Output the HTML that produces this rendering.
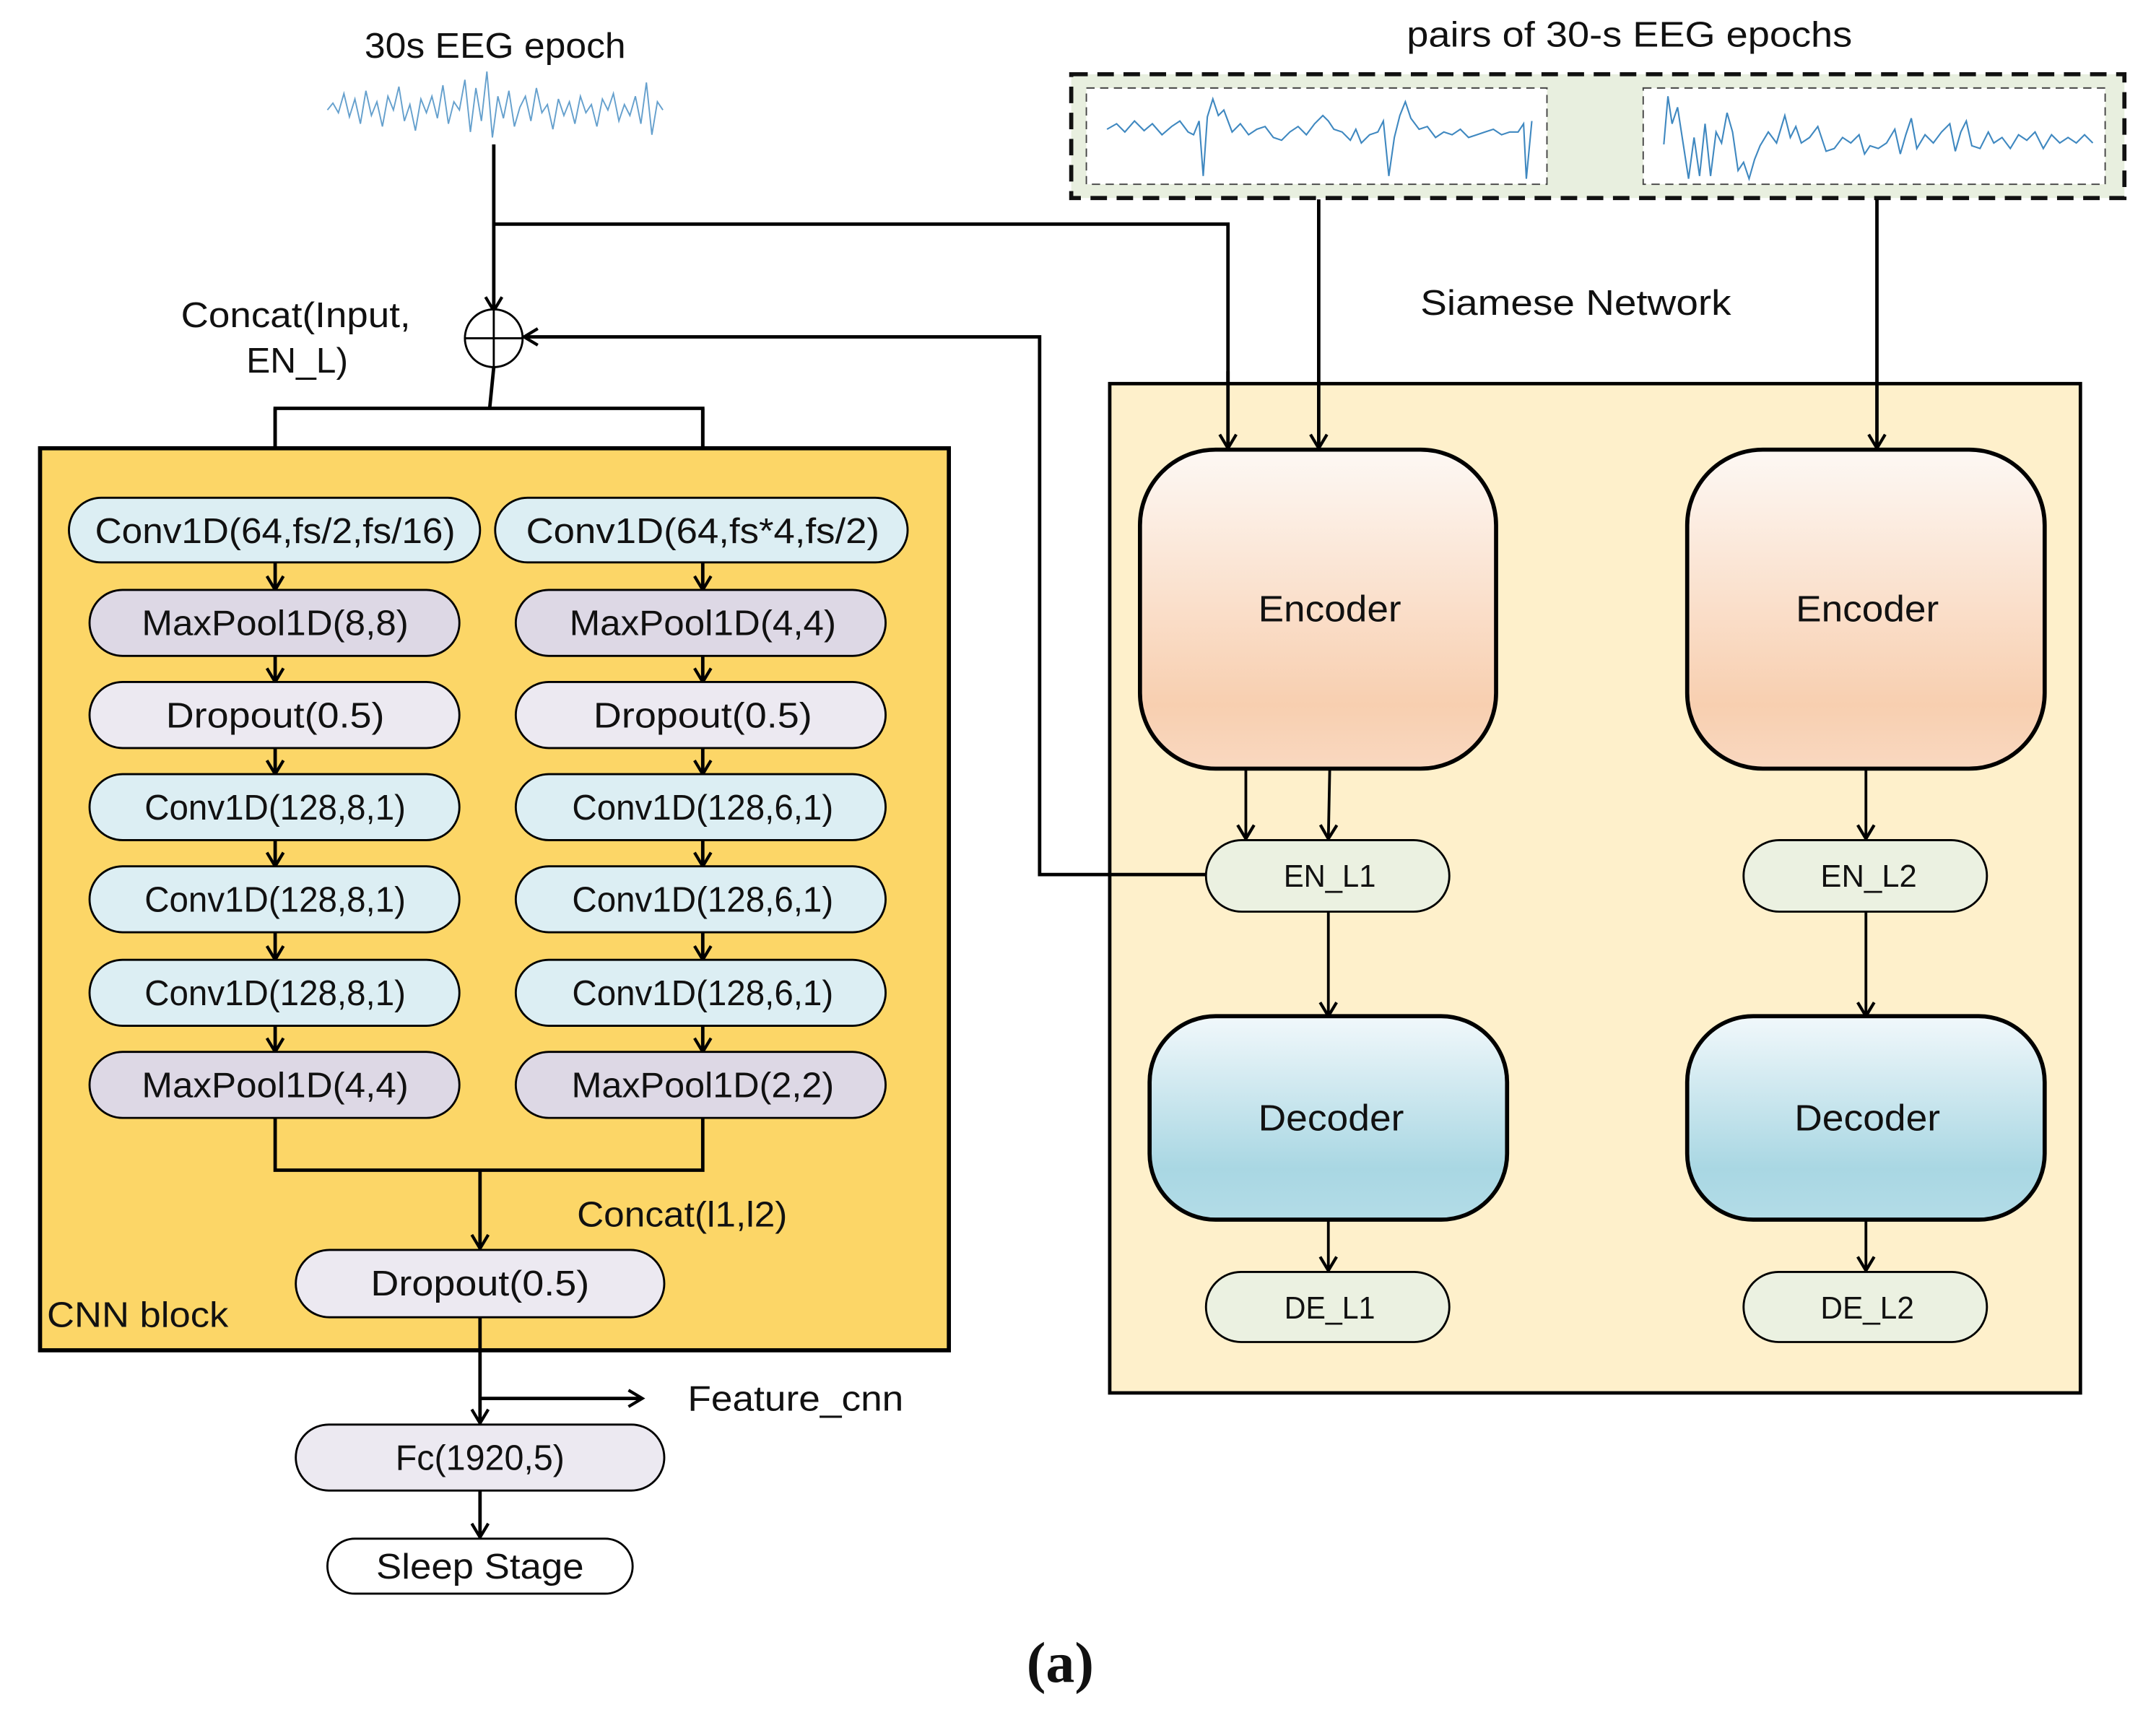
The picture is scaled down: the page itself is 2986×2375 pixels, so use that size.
<!DOCTYPE html>
<html><head><meta charset="utf-8"><style>
html,body{margin:0;padding:0;background:#fff;}
svg{display:block;}
text{font-family:"Liberation Sans",sans-serif;fill:#111;}
</style></head><body>
<svg width="2986" height="2375" viewBox="0 0 1560 1241" xmlns="http://www.w3.org/2000/svg">
<defs>
<marker id="a" markerWidth="14" markerHeight="14" refX="12" refY="7" orient="auto" markerUnits="userSpaceOnUse">
<path d="M2,1 L12,7 L2,13" fill="none" stroke="#000" stroke-width="2.2"/>
</marker>
<linearGradient id="enc" x1="0" y1="0" x2="0" y2="1">
<stop offset="0" stop-color="#FDF8F4"/><stop offset="0.8" stop-color="#F8CFB0"/><stop offset="1" stop-color="#F9D8C0"/>
</linearGradient>
<linearGradient id="dec" x1="0" y1="0" x2="0" y2="1">
<stop offset="0" stop-color="#F1F8FB"/><stop offset="0.75" stop-color="#A9D7E3"/><stop offset="1" stop-color="#B3DCE7"/>
</linearGradient>
</defs>
<g transform="scale(0.995)">

<!-- top left -->
<text x="360" y="42" font-size="26" text-anchor="middle" textLength="190" lengthAdjust="spacingAndGlyphs">30s EEG epoch</text>
<polyline fill="none" stroke="#3f88c0" stroke-width="1" opacity="0.8" points="238,80 242,75 246,82 250,68 254,85 258,72 262,90 266,66 270,84 274,74 278,92 282,70 286,80 290,63 294,88 298,76 302,95 306,72 310,82 314,70 318,86 322,62 326,90 330,74 334,80 338,58 342,96 346,64 350,88 354,52 358,100 362,70 366,86 370,66 374,92 378,78 382,70 386,88 390,64 394,82 398,76 402,94 406,72 410,84 414,74 418,90 422,70 426,82 430,76 434,92 438,72 442,80 446,68 450,88 454,76 458,84 462,70 466,90 470,60 474,98 478,74 482,80"/>

<line x1="359" y1="105" x2="359" y2="226" stroke="#000" stroke-width="2.5" marker-end="url(#a)"/>
<polyline points="359,163 893,163 893,326" fill="none" stroke="#000" stroke-width="2.5" marker-end="url(#a)"/>
<circle cx="359" cy="246" r="21" fill="#fff" stroke="#000" stroke-width="1.5"/>
<line x1="338" y1="246" x2="380" y2="246" stroke="#000" stroke-width="1.5"/>
<line x1="359" y1="225" x2="359" y2="267" stroke="#000" stroke-width="1.5"/>
<text x="215" y="238" font-size="26" text-anchor="middle" textLength="167" lengthAdjust="spacingAndGlyphs">Concat(Input,</text>
<text x="216" y="271" font-size="26" text-anchor="middle" textLength="74" lengthAdjust="spacingAndGlyphs">EN_L)</text>
<polyline points="359,267 356,297" fill="none" stroke="#000" stroke-width="2.5"/>
<polyline points="200,360 200,297 511,297 511,360" fill="none" stroke="#000" stroke-width="2.5"/>
<line x1="200" y1="297" x2="200" y2="361" stroke="#000" stroke-width="2.5" marker-end="url(#a)"/>
<line x1="511" y1="297" x2="511" y2="361" stroke="#000" stroke-width="2.5" marker-end="url(#a)"/>

<!-- CNN block -->
<rect x="29" y="326" width="661" height="656" fill="#FCD667" stroke="#000" stroke-width="3"/>

<g stroke="#000" stroke-width="2.5" marker-end="url(#a)">
<line x1="200" y1="409" x2="200" y2="429"/><line x1="511" y1="409" x2="511" y2="429"/>
<line x1="200" y1="477" x2="200" y2="496"/><line x1="511" y1="477" x2="511" y2="496"/>
<line x1="200" y1="544" x2="200" y2="563"/><line x1="511" y1="544" x2="511" y2="563"/>
<line x1="200" y1="611" x2="200" y2="630"/><line x1="511" y1="611" x2="511" y2="630"/>
<line x1="200" y1="678" x2="200" y2="698"/><line x1="511" y1="678" x2="511" y2="698"/>
<line x1="200" y1="746" x2="200" y2="765"/><line x1="511" y1="746" x2="511" y2="765"/>
</g>
<g stroke="#000" stroke-width="1.5">
<rect x="50" y="362" width="299" height="47" rx="23.5" fill="#DCEEF3"/>
<rect x="360" y="362" width="300" height="47" rx="23.5" fill="#DCEEF3"/>
<rect x="65" y="429" width="269" height="48" rx="24" fill="#DDD8E5"/>
<rect x="375" y="429" width="269" height="48" rx="24" fill="#DDD8E5"/>
<rect x="65" y="496" width="269" height="48" rx="24" fill="#ECE9F1"/>
<rect x="375" y="496" width="269" height="48" rx="24" fill="#ECE9F1"/>
<rect x="65" y="563" width="269" height="48" rx="24" fill="#DCEEF3"/>
<rect x="375" y="563" width="269" height="48" rx="24" fill="#DCEEF3"/>
<rect x="65" y="630" width="269" height="48" rx="24" fill="#DCEEF3"/>
<rect x="375" y="630" width="269" height="48" rx="24" fill="#DCEEF3"/>
<rect x="65" y="698" width="269" height="48" rx="24" fill="#DCEEF3"/>
<rect x="375" y="698" width="269" height="48" rx="24" fill="#DCEEF3"/>
<rect x="65" y="765" width="269" height="48" rx="24" fill="#DDD8E5"/>
<rect x="375" y="765" width="269" height="48" rx="24" fill="#DDD8E5"/>
</g>
<g font-size="26" text-anchor="middle">
<text x="200" y="395" textLength="262" lengthAdjust="spacingAndGlyphs">Conv1D(64,fs/2,fs/16)</text>
<text x="511" y="395" textLength="257" lengthAdjust="spacingAndGlyphs">Conv1D(64,fs*4,fs/2)</text>
<text x="200" y="462" textLength="194" lengthAdjust="spacingAndGlyphs">MaxPool1D(8,8)</text>
<text x="511" y="462" textLength="194" lengthAdjust="spacingAndGlyphs">MaxPool1D(4,4)</text>
<text x="200" y="529" textLength="159" lengthAdjust="spacingAndGlyphs">Dropout(0.5)</text>
<text x="511" y="529" textLength="159" lengthAdjust="spacingAndGlyphs">Dropout(0.5)</text>
<text x="200" y="596" textLength="190" lengthAdjust="spacingAndGlyphs">Conv1D(128,8,1)</text>
<text x="511" y="596" textLength="190" lengthAdjust="spacingAndGlyphs">Conv1D(128,6,1)</text>
<text x="200" y="663" textLength="190" lengthAdjust="spacingAndGlyphs">Conv1D(128,8,1)</text>
<text x="511" y="663" textLength="190" lengthAdjust="spacingAndGlyphs">Conv1D(128,6,1)</text>
<text x="200" y="731" textLength="190" lengthAdjust="spacingAndGlyphs">Conv1D(128,8,1)</text>
<text x="511" y="731" textLength="190" lengthAdjust="spacingAndGlyphs">Conv1D(128,6,1)</text>
<text x="200" y="798" textLength="194" lengthAdjust="spacingAndGlyphs">MaxPool1D(4,4)</text>
<text x="511" y="798" textLength="191" lengthAdjust="spacingAndGlyphs">MaxPool1D(2,2)</text>
</g>
<polyline points="200,813 200,851 511,851 511,813" fill="none" stroke="#000" stroke-width="2.5"/>
<line x1="349" y1="851" x2="349" y2="908" stroke="#000" stroke-width="2.5" marker-end="url(#a)"/>
<text x="496" y="892" font-size="26" text-anchor="middle" textLength="153" lengthAdjust="spacingAndGlyphs">Concat(l1,l2)</text>
<rect x="215" y="909" width="268" height="49" rx="24.5" fill="#ECE9F1" stroke="#000" stroke-width="1.5"/>
<text x="349" y="942" font-size="26" text-anchor="middle" textLength="159" lengthAdjust="spacingAndGlyphs">Dropout(0.5)</text>
<text x="34" y="965" font-size="26" textLength="132" lengthAdjust="spacingAndGlyphs">CNN block</text>

<line x1="349" y1="958" x2="349" y2="1035" stroke="#000" stroke-width="2.5" marker-end="url(#a)"/>
<line x1="349" y1="1017" x2="467" y2="1017" stroke="#000" stroke-width="2.5" marker-end="url(#a)"/>
<text x="500" y="1026" font-size="26" textLength="157" lengthAdjust="spacingAndGlyphs">Feature_cnn</text>
<rect x="215" y="1036" width="268" height="48" rx="24" fill="#ECE9F1" stroke="#000" stroke-width="1.5"/>
<text x="349" y="1069" font-size="26" text-anchor="middle" textLength="123" lengthAdjust="spacingAndGlyphs">Fc(1920,5)</text>
<line x1="349" y1="1084" x2="349" y2="1118" stroke="#000" stroke-width="2.5" marker-end="url(#a)"/>
<rect x="238" y="1119" width="222" height="40" rx="20" fill="#fff" stroke="#000" stroke-width="1.5"/>
<text x="349" y="1148" font-size="26" text-anchor="middle" textLength="151" lengthAdjust="spacingAndGlyphs">Sleep Stage</text>

<text x="771" y="1223" font-size="42" font-weight="bold" text-anchor="middle" style="font-family:'Liberation Serif',serif">(a)</text>

<!-- right top -->
<text x="1185" y="34" font-size="26" text-anchor="middle" textLength="324" lengthAdjust="spacingAndGlyphs">pairs of 30-s EEG epochs</text>
<rect x="779" y="54" width="766" height="90" fill="#E8EFDF" stroke="#111" stroke-width="3" stroke-dasharray="12,7"/>
<rect x="790" y="64" width="335" height="70" fill="#fff" stroke="#444" stroke-width="1" stroke-dasharray="6,4"/>
<rect x="1195" y="64" width="336" height="70" fill="#fff" stroke="#444" stroke-width="1" stroke-dasharray="6,4"/>
<polyline fill="none" stroke="#3f88c0" stroke-width="1.1" points="805,94 812,90 818,96 825,88 832,95 838,90 845,98 852,92 858,88 864,96 868,98 872,88 875,128 878,85 882,72 886,84 890,80 896,96 902,90 908,98 914,94 920,92 926,100 932,102 938,96 944,92 950,98 956,90 962,84 966,88 970,94 976,96 982,102 986,94 990,104 996,98 1002,96 1006,88 1010,128 1014,100 1018,84 1022,74 1026,86 1032,94 1038,92 1044,100 1050,96 1056,98 1062,94 1068,100 1074,98 1080,96 1086,94 1092,98 1098,96 1104,96 1108,90 1110,130 1114,88"/>
<polyline fill="none" stroke="#3f88c0" stroke-width="1.1" points="1210,105 1213,70 1216,90 1220,78 1224,104 1228,130 1232,100 1236,128 1240,90 1244,128 1248,96 1252,104 1256,82 1260,96 1264,124 1268,118 1272,130 1276,116 1280,106 1286,96 1292,104 1298,84 1302,100 1306,92 1310,104 1316,100 1322,92 1328,110 1334,108 1340,100 1346,104 1352,98 1356,112 1360,106 1366,108 1372,104 1378,94 1382,112 1386,98 1390,86 1394,108 1400,98 1406,104 1412,96 1418,90 1422,110 1426,96 1430,88 1434,106 1440,108 1446,96 1450,104 1456,100 1462,108 1468,98 1474,102 1480,96 1486,108 1492,98 1498,104 1504,100 1510,104 1516,98 1522,104"/>
<text x="1146" y="229" font-size="26" text-anchor="middle" textLength="226" lengthAdjust="spacingAndGlyphs">Siamese Network</text>

<rect x="807" y="279" width="706" height="734" fill="#FEF0CB" stroke="#000" stroke-width="2.5"/>
<polyline points="877,636 756,636 756,245 381,245" fill="none" stroke="#000" stroke-width="2.5" marker-end="url(#a)"/>
<line x1="959" y1="145" x2="959" y2="326" stroke="#000" stroke-width="2.5" marker-end="url(#a)"/>
<line x1="1365" y1="145" x2="1365" y2="326" stroke="#000" stroke-width="2.5" marker-end="url(#a)"/>
<line x1="893" y1="270" x2="893" y2="326" stroke="#000" stroke-width="2.5" marker-end="url(#a)"/>

<rect x="829" y="327" width="259" height="232" rx="55" fill="url(#enc)" stroke="#000" stroke-width="3"/>
<rect x="1227" y="327" width="260" height="232" rx="55" fill="url(#enc)" stroke="#000" stroke-width="3"/>
<text x="967" y="452" font-size="27" text-anchor="middle" textLength="104" lengthAdjust="spacingAndGlyphs">Encoder</text>
<text x="1358" y="452" font-size="27" text-anchor="middle" textLength="104" lengthAdjust="spacingAndGlyphs">Encoder</text>

<g stroke="#000" stroke-width="2" marker-end="url(#a)">
<line x1="906" y1="560" x2="906" y2="610"/>
<line x1="967" y1="560" x2="966" y2="610"/>
<line x1="1357" y1="560" x2="1357" y2="610"/>
<line x1="966" y1="663" x2="966" y2="739"/>
<line x1="1357" y1="663" x2="1357" y2="739"/>
<line x1="966" y1="887" x2="966" y2="924"/>
<line x1="1357" y1="887" x2="1357" y2="924"/>
</g>
<g stroke="#000" stroke-width="1.5" fill="#EBF1E1">
<rect x="877" y="611" width="177" height="52" rx="26"/>
<rect x="1268" y="611" width="177" height="52" rx="26"/>
<rect x="877" y="925" width="177" height="51" rx="25.5"/>
<rect x="1268" y="925" width="177" height="51" rx="25.5"/>
</g>
<g font-size="23" text-anchor="middle">
<text x="967" y="645" textLength="67" lengthAdjust="spacingAndGlyphs">EN_L1</text>
<text x="1359" y="645" textLength="70" lengthAdjust="spacingAndGlyphs">EN_L2</text>
<text x="967" y="959" textLength="66" lengthAdjust="spacingAndGlyphs">DE_L1</text>
<text x="1358" y="959" textLength="68" lengthAdjust="spacingAndGlyphs">DE_L2</text>
</g>
<rect x="836" y="739" width="260" height="148" rx="48" fill="url(#dec)" stroke="#000" stroke-width="3"/>
<rect x="1227" y="739" width="260" height="148" rx="48" fill="url(#dec)" stroke="#000" stroke-width="3"/>
<text x="968" y="822" font-size="27" text-anchor="middle" textLength="106" lengthAdjust="spacingAndGlyphs">Decoder</text>
<text x="1358" y="822" font-size="27" text-anchor="middle" textLength="106" lengthAdjust="spacingAndGlyphs">Decoder</text>
</g>
</svg>
</body></html>
